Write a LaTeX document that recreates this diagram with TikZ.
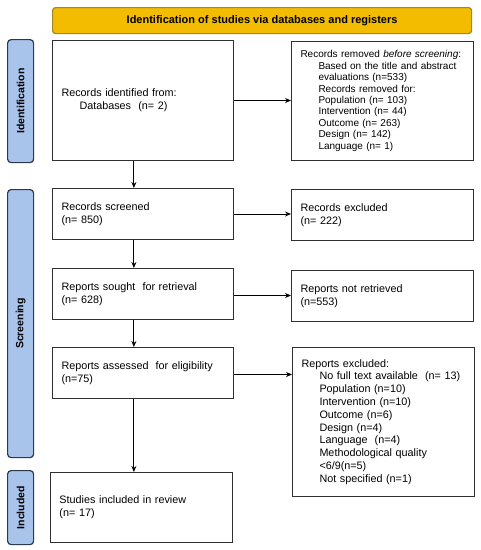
\documentclass[tikz,border=0pt]{standalone}
\usepackage{fontspec}
\setmainfont{Liberation Sans}
\usetikzlibrary{arrows.meta,calc}
\definecolor{bannerfill}{HTML}{F3BC00}
\definecolor{bannerdraw}{HTML}{A08A28}
\definecolor{phasefill}{HTML}{A9C4EB}
\definecolor{phasedraw}{HTML}{2B3A4A}
\definecolor{boxdraw}{HTML}{303030}
\begin{document}
\begin{tikzpicture}[x=1pt,y=-1pt,
  box/.style={draw=boxdraw,line width=1pt,anchor=north west,inner xsep=9pt,inner ysep=0pt,
    align=left,font=\fontsize{10.8}{12.8}\selectfont},
  phase/.style={draw=phasedraw,fill=phasefill,line width=1.2pt,rounded corners=3.5pt,
    minimum width=26pt,inner sep=0pt,anchor=north west},
  phasetext/.style={rotate=90,font=\bfseries\fontsize{10.5}{12}\selectfont},
  arr/.style={line width=0.9pt,-{Stealth[length=6pt,width=5pt]}}]
\useasboundingbox (0,0) rectangle (481,550);
% banner
\node[draw=bannerdraw,fill=bannerfill,line width=1.2pt,rounded corners=3pt,anchor=north west,
  minimum width=419pt,minimum height=26pt,inner sep=0pt,
  font=\bfseries\fontsize{11}{13}\selectfont] (banner) at (52,7)
  {Identification of studies via databases and registers};
% phases
\node[phase,minimum height=123pt] (pid) at (7,39) {};
\node[phasetext] (pidt) at (pid.center) {Identification};
\node[phase,minimum height=268pt] (psc) at (7,189) {};
\node[phasetext] (psct) at (psc.center) {Screening};
\node[phase,minimum height=74pt] (pin) at (7,470) {};
\node[phasetext] (pint) at (pin.center) {Included};
% left boxes
\node[box,text width=163pt,minimum height=120pt] (L1) at (52,40)
  {Records identified from:\\\hspace*{18pt}Databases\ \ (n= 2)};
\node[box,text width=163pt,minimum height=51pt] (L2) at (52,188)
  {Records screened\\(n= 850)};
\node[box,text width=163pt,minimum height=51pt] (L3) at (52,268)
  {Reports sought\ \ for retrieval\\(n= 628)};
\node[box,text width=163pt,minimum height=51pt] (L4) at (52,347)
  {Reports assessed\ \ for eligibility\\(n=75)};
\node[box,text width=164pt,minimum height=70pt] (L5) at (50,472)
  {Studies included in review\\(n= 17)};
% right boxes
\node[box,text width=164pt,minimum height=119pt,font=\fontsize{10}{11.4}\selectfont] (R1) at (291,41)
  {Records removed \textit{before screening}:\\
   \hspace*{18pt}Based on the title and abstract\\
   \hspace*{18pt}evaluations (n=533)\\
   \hspace*{18pt}Records removed for:\\
   \hspace*{18pt}Population (n= 103)\\
   \hspace*{18pt}Intervention (n= 44)\\
   \hspace*{18pt}Outcome (n= 263)\\
   \hspace*{18pt}Design (n= 142)\\
   \hspace*{18pt}Language (n= 1)};
\node[box,text width=164pt,minimum height=51pt] (R2) at (291,189)
  {Records excluded\\(n= 222)};
\node[box,text width=164pt,minimum height=51pt] (R3) at (291,270)
  {Reports not retrieved\\(n=553)};
\node[box,text width=164pt,minimum height=149pt] (R4) at (292,347)
  {Reports excluded:\\
   \hspace*{18pt}No full text available\ \ (n= 13)\\
   \hspace*{18pt}Population (n=10)\\
   \hspace*{18pt}Intervention (n=10)\\
   \hspace*{18pt}Outcome (n=6)\\
   \hspace*{18pt}Design (n=4)\\
   \hspace*{18pt}Language\ \ (n=4)\\
   \hspace*{18pt}Methodological quality\\
   \hspace*{18pt}<6/9(n=5)\\
   \hspace*{18pt}Not specified (n=1)};
% vertical arrows
\coordinate (v1) at ($(L1.south west)!0.45!(L1.south east)$);
\coordinate (v2) at ($(L2.south west)!0.45!(L2.south east)$);
\coordinate (v3) at ($(L3.south west)!0.45!(L3.south east)$);
\coordinate (v4) at ($(L4.south west)!0.45!(L4.south east)$);
\draw[arr] (v1) -- (v1 |- L2.north);
\draw[arr] (v2) -- (v2 |- L3.north);
\draw[arr] (v3) -- (v3 |- L4.north);
\draw[arr] (v4) -- (v4 |- L5.north);
% horizontal arrows
\draw[arr] (L1.east) -- (L1.east -| R1.west);
\draw[arr] (L2.east) -- (L2.east -| R2.west);
\draw[arr] ([yshift=-1.5pt]L3.east) -- ([yshift=-1.5pt]L3.east -| R3.west);
\draw[arr] ([yshift=-1.5pt]L4.east) -- ([yshift=-1.5pt]L4.east -| R4.west);
\end{tikzpicture}
\end{document}
